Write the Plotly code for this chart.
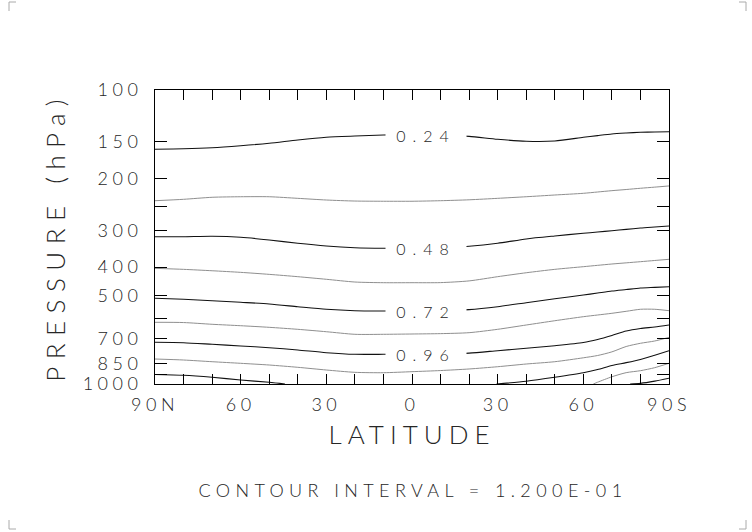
import numpy as np
import plotly.graph_objects as go

# ---------------- data ----------------
LAT = [90, 80, 70, 60, 50, 40, 30, 20, 10, 0, -10, -20, -30, -40, -50, -60, -65, -70, -75, -80, -85, -90]

# pressure (hPa) of each isoline at the latitudes in LAT
P_024 = [159, 158.4, 157.1, 154.7, 151.8, 147.9, 144.8, 143.4, 142.3, 141.8, 142.2, 143.8, 147.1, 149.4, 149.1, 144.8, 142.9, 141.1, 140.1, 139.3, 138.9, 138.6]
P_036 = [238, 235.4, 231.7, 230.7, 230.7, 233.6, 236.7, 238.6, 239, 239, 238, 236.3, 233.6, 230.7, 227.6, 224.6, 222.3, 220, 218, 215.9, 214, 212]
P_048 = [315.5, 315.5, 314.5, 317, 323.7, 332.2, 339.3, 343.9, 345.5, 345.5, 344, 340, 332.2, 321.1, 313.7, 307.2, 304.1, 301.1, 297.9, 294.7, 292.4, 290.2]
P_060 = [404.2, 407.4, 411.9, 417.1, 423.7, 431.5, 440.4, 449.9, 452.3, 452.3, 452, 446, 431.5, 418.4, 407.4, 399, 394.8, 390.7, 387.2, 383.7, 380.1, 376.6]
P_072 = [511.1, 515.1, 520.8, 527.4, 534.4, 545.8, 557.0, 563.2, 564.5, 564.5, 563, 558.5, 545.8, 529, 512.8, 498.2, 490.5, 482.8, 477.2, 471.6, 469.1, 466.7]
P_084 = [616.8, 618, 626.5, 633.5, 641.5, 651.6, 664, 677.6, 677.6, 676, 674, 669, 651.6, 630, 609.2, 590.3, 582.5, 574.8, 565.9, 557, 557, 563.2]
P_096 = [721.5, 723.7, 732.8, 742.5, 752.4, 766.2, 782.5, 792.5, 792.5, 791, 789, 785, 770.3, 756.1, 740.8, 722.6, 705.7, 684, 660.5, 647.6, 640, 630]
P_108 = [822.2, 828.7, 839.8, 850.4, 861.8, 877.4, 896.2, 912.6, 915.4, 908, 900, 889, 873.4, 855.1, 839.8, 814.5, 800, 777.5, 745.5, 727, 714, 694]

# isolines that reach the 1000 hPa floor
LAT_120N = [90, 80, 70, 60, 50, 44.5]
P_120N = [928.4, 934.2, 949, 969.2, 986.8, 1000]
LAT_120S = [-29.6, -40, -50, -60, -65, -70, -75, -80, -85, -90]
P_120S = [1000, 979, 949, 916, 893, 865, 846, 825, 798, 771]
LAT_132 = [-63.5, -65, -70, -75, -80, -85, -90]
P_132 = [1000, 986, 945, 915, 901, 880, 850]
LAT_144 = [-76.4, -80, -85, -90]
P_144 = [1000, 995, 978, 956]

LABELLED = [("0.24", P_024), ("0.48", P_048), ("0.72", P_072), ("0.96", P_096)]
LABEL_LAT = -5

X_TICKS = list(range(90, -91, -10))
X_TEXT = {90: "90N", 60: "60", 30: "30", 0: "0", -30: "30", -60: "60", -90: "90S"}
Y_TICKS = [100, 150, 200, 250, 300, 400, 500, 600, 700, 850, 925, 1000]
Y_TEXT = {100: "100", 150: "150", 200: "200", 300: "300", 400: "400",
          500: "500", 700: "700", 850: "850", 1000: "1000"}

# ---------------- figure ----------------
DARK = "#111111"
GREY = "#8f8f8f"
TXT = "#262626"
FONT = "Lato, Roboto, 'DejaVu Sans', sans-serif"

fig = go.Figure()

def add_line(x, y, color, width):
    fig.add_trace(go.Scatter(
        x=x, y=y, mode="lines",
        line=dict(color=color, width=width, shape="spline", smoothing=0.7),
        hoverinfo="skip", showlegend=False))

solid = [P_024, P_048, P_072, P_096]
grey = [P_036, P_060, P_084, P_108]
for p in grey:
    add_line(LAT, p, GREY, 1)
for p in solid:
    add_line(LAT, p, DARK, 1.1)
add_line(LAT_120N, P_120N, DARK, 1.1)
add_line(LAT_120S, P_120S, DARK, 1.1)
add_line(LAT_132, P_132, GREY, 1)
add_line(LAT_144, P_144, DARK, 1.1)

lat_inc = np.array(LAT[::-1], dtype=float)
for text, p in LABELLED:
    logp = np.interp(LABEL_LAT, lat_inc, np.log10(np.array(p[::-1], dtype=float)))
    fig.add_annotation(x=LABEL_LAT, y=logp, xref="x", yref="y", text=text,
                       showarrow=False, bgcolor="white", width=78, height=20,
                       font=dict(family=FONT, size=16, color=TXT, weight=300))

fig.add_annotation(x=0.502, y=-0.36, xref="paper", yref="paper",
                   text="CONTOUR INTERVAL = 1.200E-01", showarrow=False,
                   xanchor="center", yanchor="middle",
                   font=dict(family=FONT, size=18, color=TXT, weight=300))

# page corner marks
corner = dict(type="line", xref="paper", yref="paper", line=dict(color="#aaaaaa", width=1))
W, H = 514.0, 294.0
def px(x):
    return (x - 155) / W
def py(y):
    return (384 - y) / H
for (x0, x1, y0, y1) in [(9, 16, 2, 2), (9, 9, 2, 11), (739, 746, 2, 2), (746, 746, 2, 11),
                         (9, 16, 529, 529), (9, 9, 520, 529), (739, 746, 529, 529), (746, 746, 520, 529)]:
    fig.add_shape(x0=px(x0), x1=px(x1), y0=py(y0), y1=py(y1), **corner)

axis_common = dict(showgrid=False, zeroline=False, showline=True, linecolor="black",
                   linewidth=1, mirror="ticks", ticks="inside", tickcolor="black",
                   tickwidth=1)

fig.update_xaxes(range=[90, -90], tickvals=X_TICKS,
                 ticktext=[X_TEXT.get(v, "") for v in X_TICKS], ticklen=10,
                 ticklabelstandoff=4,
                 tickfont=dict(family=FONT, size=18, color=TXT, weight=300),
                 title=dict(text="LATITUDE", standoff=12,
                            font=dict(family=FONT, size=26, color=TXT, weight=300)),
                 **axis_common)
fig.update_yaxes(type="log", range=[3, 2], tickvals=Y_TICKS,
                 ticktext=[Y_TEXT.get(v, "") for v in Y_TICKS], ticklen=12,
                 ticklabelstandoff=8,
                 tickfont=dict(family=FONT, size=18, color=TXT, weight=300),
                 title=dict(text="PRESSURE (hPa)", standoff=27,
                            font=dict(family=FONT, size=26, color=TXT, weight=300)),
                 **axis_common)

fig.update_layout(width=752, height=532, margin=dict(l=155, r=83, t=90, b=148),
                  paper_bgcolor="white", plot_bgcolor="white",
                  font=dict(family=FONT, color=TXT))

post = """
document.body.style.margin = '0';
document.body.style.overflow = 'hidden';
var gd = document.getElementById('{plot_id}');
function sp(sel, v){ gd.querySelectorAll(sel).forEach(function(t){ t.style.letterSpacing = v; }); }
sp('.xtick text', '4.5px');
sp('.ytick text', '4.5px');
sp('text.xtitle', '6px');
sp('text.ytitle', '7.5px');
gd.querySelectorAll('.annotation-text').forEach(function(t){
  if (t.textContent.indexOf('CONTOUR') >= 0) { t.style.letterSpacing = '5.4px'; }
  else { t.style.letterSpacing = '7px'; }
});
"""

fig.write_html("out.html", post_script=post, config={"displayModeBar": False})
